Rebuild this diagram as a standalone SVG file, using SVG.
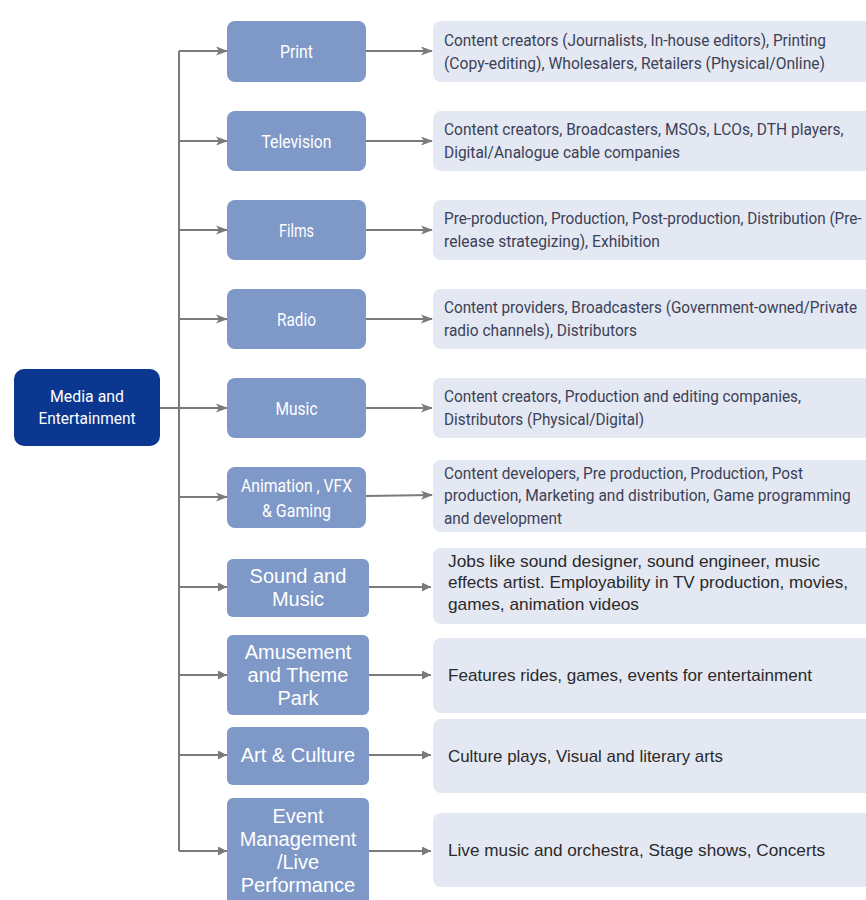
<svg xmlns="http://www.w3.org/2000/svg" width="866" height="900" viewBox="0 0 866 900">
<defs>
<style>
.root{fill:#0b3791}
.mid{fill:#7e98c7}
.det{fill:#e4e8f2}
.ct{font-family:Roboto,"Liberation Sans",sans-serif;fill:#ffffff}
.at{font-family:"Liberation Sans",Arial,sans-serif;fill:#ffffff;font-size:20px}
.dt{font-family:Roboto,"Liberation Sans",sans-serif;fill:#3b4157;font-size:17px}
.da{font-family:"Liberation Sans",Arial,sans-serif;fill:#2a2a2a;font-size:17px}
.ln{stroke:#7a7a7a;stroke-width:2;fill:none}
</style>
<marker id="ah" viewBox="0 0 12 10" refX="11" refY="5" markerWidth="12" markerHeight="10" markerUnits="userSpaceOnUse" orient="auto">
<path d="M0,0.5 L12,5 L0,9.5 L3,5 z" fill="#7a7a7a"/>
</marker>
<marker id="at" viewBox="0 0 10 10" refX="10" refY="5" markerWidth="10" markerHeight="9" markerUnits="userSpaceOnUse" orient="auto">
<path d="M0,0 L10,5 L0,10 z" fill="#7a7a7a"/>
</marker>
</defs>
<rect width="866" height="900" fill="#ffffff"/>

<g id="connectors">
<line class="ln" x1="179" y1="51" x2="179" y2="851"/>
<line class="ln" x1="160" y1="408" x2="179" y2="408"/>
<line class="ln" x1="179" y1="51" x2="227" y2="51" marker-end="url(#ah)"/>
<line class="ln" x1="179" y1="141" x2="227" y2="141" marker-end="url(#ah)"/>
<line class="ln" x1="179" y1="230" x2="227" y2="230" marker-end="url(#ah)"/>
<line class="ln" x1="179" y1="319" x2="227" y2="319" marker-end="url(#ah)"/>
<line class="ln" x1="179" y1="408" x2="227" y2="408" marker-end="url(#ah)"/>
<line class="ln" x1="179" y1="497" x2="227" y2="497" marker-end="url(#ah)"/>
<line class="ln" x1="179" y1="587" x2="227" y2="587" marker-end="url(#at)" stroke-width="2.5"/>
<line class="ln" x1="179" y1="675" x2="227" y2="675" marker-end="url(#at)" stroke-width="2.5"/>
<line class="ln" x1="179" y1="755" x2="227" y2="755" marker-end="url(#at)" stroke-width="2.5"/>
<line class="ln" x1="179" y1="851" x2="227" y2="851" marker-end="url(#at)" stroke-width="2.5"/>
<line class="ln" x1="366" y1="51" x2="432" y2="51" marker-end="url(#ah)"/>
<line class="ln" x1="366" y1="141" x2="432" y2="141" marker-end="url(#ah)"/>
<line class="ln" x1="366" y1="230" x2="432" y2="230" marker-end="url(#ah)"/>
<line class="ln" x1="366" y1="319" x2="432" y2="319" marker-end="url(#ah)"/>
<line class="ln" x1="366" y1="408" x2="432" y2="408" marker-end="url(#ah)"/>
<line class="ln" x1="366" y1="496" x2="432" y2="495" marker-end="url(#ah)"/>
<line class="ln" x1="369" y1="587" x2="431" y2="587" marker-end="url(#at)" stroke-width="2.5"/>
<line class="ln" x1="369" y1="675" x2="431" y2="675" marker-end="url(#at)" stroke-width="2.5"/>
<line class="ln" x1="369" y1="755" x2="431" y2="755" marker-end="url(#at)" stroke-width="2.5"/>
<line class="ln" x1="369" y1="851" x2="431" y2="851" marker-end="url(#at)" stroke-width="2.5"/>
</g>

<g id="root">
<rect class="root" x="14" y="369" width="146" height="77" rx="10"/>
<text class="ct" x="87" y="402" font-size="17" text-anchor="middle" textLength="74" lengthAdjust="spacingAndGlyphs">Media and</text>
<text class="ct" x="87" y="424" font-size="17" text-anchor="middle" textLength="97" lengthAdjust="spacingAndGlyphs">Entertainment</text>
</g>

<g id="n-print"><rect class="mid" x="227" y="21" width="139" height="61" rx="8"/>
<text class="ct" x="296.5" y="58" font-size="19" text-anchor="middle" textLength="33" lengthAdjust="spacingAndGlyphs">Print</text></g>
<g id="n-tv"><rect class="mid" x="227" y="111" width="139" height="60" rx="8"/>
<text class="ct" x="296.5" y="148" font-size="19" text-anchor="middle" textLength="70" lengthAdjust="spacingAndGlyphs">Television</text></g>
<g id="n-films"><rect class="mid" x="227" y="200" width="139" height="60" rx="8"/>
<text class="ct" x="296.5" y="237" font-size="19" text-anchor="middle" textLength="35" lengthAdjust="spacingAndGlyphs">Films</text></g>
<g id="n-radio"><rect class="mid" x="227" y="289" width="139" height="60" rx="8"/>
<text class="ct" x="296.5" y="326" font-size="19" text-anchor="middle" textLength="39" lengthAdjust="spacingAndGlyphs">Radio</text></g>
<g id="n-music"><rect class="mid" x="227" y="378" width="139" height="60" rx="8"/>
<text class="ct" x="296.5" y="415" font-size="19" text-anchor="middle" textLength="42" lengthAdjust="spacingAndGlyphs">Music</text></g>
<g id="n-anim"><rect class="mid" x="227" y="467" width="139" height="61" rx="8"/>
<text class="ct" x="296.5" y="492" font-size="18" text-anchor="middle" textLength="111" lengthAdjust="spacingAndGlyphs">Animation , VFX</text>
<text class="ct" x="296.5" y="517" font-size="18" text-anchor="middle" textLength="69" lengthAdjust="spacingAndGlyphs">&amp; Gaming</text></g>
<g id="n-sound"><rect class="mid" x="227" y="559" width="142" height="58" rx="6"/>
<text class="at" x="298" y="583" text-anchor="middle">Sound and</text>
<text class="at" x="298" y="606" text-anchor="middle">Music</text></g>
<g id="n-amuse"><rect class="mid" x="227" y="635" width="142" height="80" rx="6"/>
<text class="at" x="298" y="659" text-anchor="middle">Amusement</text>
<text class="at" x="298" y="682" text-anchor="middle">and Theme</text>
<text class="at" x="298" y="705" text-anchor="middle">Park</text></g>
<g id="n-art"><rect class="mid" x="227" y="727" width="142" height="58" rx="6"/>
<text class="at" x="298" y="762" text-anchor="middle">Art &amp; Culture</text></g>
<g id="n-event"><path class="mid" d="M233,798 H363 A6,6 0 0 1 369,804 V900 H227 V804 A6,6 0 0 1 233,798 Z"/>
<text class="at" x="298" y="823" text-anchor="middle">Event</text>
<text class="at" x="298" y="846" text-anchor="middle">Management</text>
<text class="at" x="298" y="869" text-anchor="middle">/Live</text>
<text class="at" x="298" y="892" text-anchor="middle">Performance</text></g>

<g id="d-print"><path class="det" d="M441,21 H866 V82 H441 A8,8 0 0 1 433,74 V29 A8,8 0 0 1 441,21 Z"/>
<text class="dt" x="444" y="46" textLength="382" lengthAdjust="spacingAndGlyphs">Content creators (Journalists, In-house editors), Printing</text>
<text class="dt" x="444" y="69" textLength="381" lengthAdjust="spacingAndGlyphs">(Copy-editing), Wholesalers, Retailers (Physical/Online)</text></g>
<g id="d-tv"><path class="det" d="M441,111 H866 V171 H441 A8,8 0 0 1 433,163 V119 A8,8 0 0 1 441,111 Z"/>
<text class="dt" transform="translate(444,135) scale(0.9,1)" textLength="444" lengthAdjust="spacingAndGlyphs">Content creators, Broadcasters, MSOs, LCOs, DTH players,</text>
<text class="dt" x="444" y="158" textLength="236" lengthAdjust="spacingAndGlyphs">Digital/Analogue cable companies</text></g>
<g id="d-films"><path class="det" d="M441,200 H866 V260 H441 A8,8 0 0 1 433,252 V208 A8,8 0 0 1 441,200 Z"/>
<text class="dt" transform="translate(444,224) scale(0.9,1)" textLength="464" lengthAdjust="spacingAndGlyphs">Pre-production, Production, Post-production, Distribution (Pre-</text>
<text class="dt" x="444" y="247" textLength="216" lengthAdjust="spacingAndGlyphs">release strategizing), Exhibition</text></g>
<g id="d-radio"><path class="det" d="M441,289 H866 V349 H441 A8,8 0 0 1 433,341 V297 A8,8 0 0 1 441,289 Z"/>
<text class="dt" transform="translate(444,313) scale(0.9,1)" textLength="459" lengthAdjust="spacingAndGlyphs">Content providers, Broadcasters (Government-owned/Private</text>
<text class="dt" x="444" y="336" textLength="193" lengthAdjust="spacingAndGlyphs">radio channels), Distributors</text></g>
<g id="d-music"><path class="det" d="M441,378 H866 V438 H441 A8,8 0 0 1 433,430 V386 A8,8 0 0 1 441,378 Z"/>
<text class="dt" x="444" y="402" textLength="357" lengthAdjust="spacingAndGlyphs">Content creators, Production and editing companies,</text>
<text class="dt" x="444" y="425" textLength="200" lengthAdjust="spacingAndGlyphs">Distributors (Physical/Digital)</text></g>
<g id="d-anim"><path class="det" d="M441,460 H866 V532 H441 A8,8 0 0 1 433,524 V468 A8,8 0 0 1 441,460 Z"/>
<text class="dt" x="444" y="479" textLength="359" lengthAdjust="spacingAndGlyphs">Content developers, Pre production, Production, Post</text>
<text class="dt" transform="translate(444,501) scale(0.9,1)" textLength="452" lengthAdjust="spacingAndGlyphs">production, Marketing and distribution, Game programming</text>
<text class="dt" x="444" y="524" textLength="118" lengthAdjust="spacingAndGlyphs">and development</text></g>
<g id="d-sound"><path class="det" d="M441,548 H866 V624 H441 A8,8 0 0 1 433,616 V556 A8,8 0 0 1 441,548 Z"/>
<text class="da" x="448" y="567" textLength="372" lengthAdjust="spacingAndGlyphs">Jobs like sound designer, sound engineer, music</text>
<text class="da" x="448" y="588" textLength="400" lengthAdjust="spacingAndGlyphs">effects artist. Employability in TV production, movies,</text>
<text class="da" x="448" y="610" textLength="191" lengthAdjust="spacingAndGlyphs">games, animation videos</text></g>
<g id="d-amuse"><path class="det" d="M441,638 H866 V713 H441 A8,8 0 0 1 433,705 V646 A8,8 0 0 1 441,638 Z"/>
<text class="da" x="448" y="681" textLength="364" lengthAdjust="spacingAndGlyphs">Features rides, games, events for entertainment</text></g>
<g id="d-art"><path class="det" d="M441,719 H866 V793 H441 A8,8 0 0 1 433,785 V727 A8,8 0 0 1 441,719 Z"/>
<text class="da" x="448" y="762" textLength="275" lengthAdjust="spacingAndGlyphs">Culture plays, Visual and literary arts</text></g>
<g id="d-event"><path class="det" d="M441,813 H866 V887 H441 A8,8 0 0 1 433,879 V821 A8,8 0 0 1 441,813 Z"/>
<text class="da" x="448" y="856" textLength="377" lengthAdjust="spacingAndGlyphs">Live music and orchestra, Stage shows, Concerts</text></g>
</svg>
